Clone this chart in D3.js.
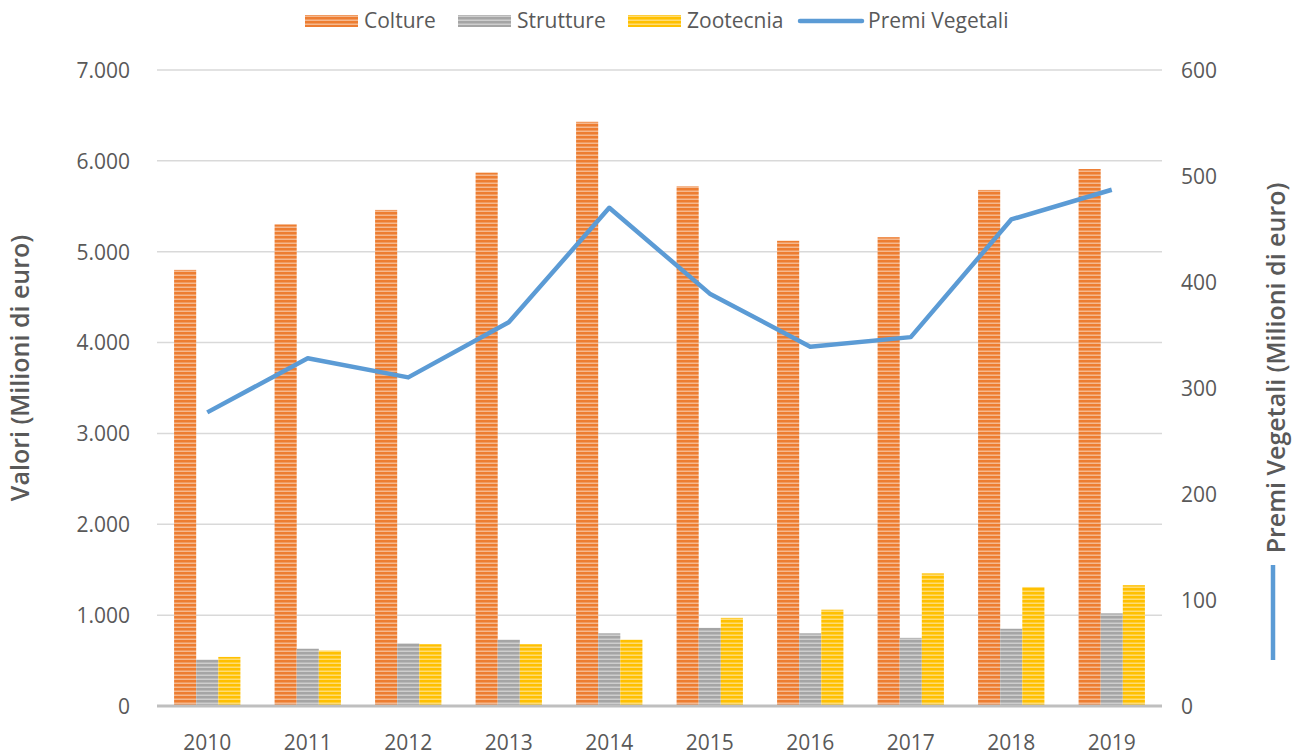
<!DOCTYPE html>
<html>
<head>
<meta charset="utf-8">
<script src="https://cdn.jsdelivr.net/npm/d3@7"></script>
<style>
body{margin:0;background:#fff;}
svg text{font-family:"Open Sans",sans-serif;fill:#595959;}
</style>
</head>
<body>
<svg id="chart" width="1293" height="756"></svg>
<script>
var anni=["2010","2011","2012","2013","2014","2015","2016","2017","2018","2019"];
var colture=[4800,5300,5460,5870,6430,5720,5120,5160,5680,5910];
var strutture=[510,630,690,730,800,860,800,750,850,1020];
var zootecnia=[540,610,680,680,730,970,1060,1460,1310,1330];
var premiVegetali=[277,328,310,362,470,389,339,348,459,487];
var serie=["Colture","Strutture","Zootecnia"];
var colori=["#ED7D31","#A5A5A5","#FFC000"];
var tickSx=[0,1000,2000,3000,4000,5000,6000,7000];
var tickDx=[0,100,200,300,400,500,600];

var svg=d3.select("#chart");
var pLeft=157,pRight=1162,pTop=70,pBottom=706;

// pattern a righe orizzontali
var defs=svg.append("defs");
colori.forEach(function(c,i){
	var p=defs.append("pattern").attr("id","righe"+i)
		.attr("patternUnits","userSpaceOnUse").attr("width",8).attr("height",4);
	p.append("rect").attr("width",8).attr("height",4).attr("fill",c);
	p.append("rect").attr("y",2.5).attr("width",8).attr("height",1.5).attr("fill","#fff").attr("opacity",0.45);
});

var it=d3.formatLocale({decimal:",",thousands:".",grouping:[3],currency:["€",""]});

var x0=d3.scaleBand().domain(anni).range([pLeft,pRight]).paddingInner(0.34).paddingOuter(0.17);
var x1=d3.scaleBand().domain(serie).range([0,x0.bandwidth()]);
var ySx=d3.scaleLinear().domain([0,7000]).range([pBottom,pTop]);
var yDx=d3.scaleLinear().domain([0,600]).range([pBottom,pTop]);

// griglia
svg.append("g").selectAll("line").data(tickSx.slice(1)).enter().append("line")
	.attr("x1",pLeft).attr("x2",pRight)
	.attr("y1",function(d){return ySx(d);}).attr("y2",function(d){return ySx(d);})
	.attr("stroke","#d9d9d9").attr("stroke-width",1.5);

// assi (solo etichette)
var axSx=svg.append("g").attr("transform","translate("+(pLeft-27)+",0)")
	.call(d3.axisLeft(ySx).tickValues(tickSx).tickFormat(it.format(",d")).tickSize(0));
var axDx=svg.append("g").attr("transform","translate("+(pRight+19)+",0)")
	.call(d3.axisRight(yDx).tickValues(tickDx).tickSize(0));
var axX=svg.append("g").attr("transform","translate(0,"+(pBottom+38)+")")
	.call(d3.axisBottom(x0).tickSize(0));
[axSx,axDx,axX].forEach(function(a){
	a.select(".domain").remove();
	a.selectAll("text").style("font-size","21px").attr("fill","#595959").attr("dy","0.35em");
});
axX.selectAll("text").attr("dy","0.3em").attr("y",0);
axSx.selectAll("text").attr("x",0);
axDx.selectAll("text").attr("x",0);

// barre
var valori=[colture,strutture,zootecnia];
var gruppi=svg.append("g").selectAll("g").data(anni).enter().append("g")
	.attr("transform",function(d){return "translate("+x0(d)+",0)";});
gruppi.selectAll("rect").data(function(d,i){
		return serie.map(function(s,k){return {s:s,k:k,v:valori[k][i]};});
	}).enter().append("rect")
	.attr("x",function(d){return x1(d.s);})
	.attr("width",x1.bandwidth())
	.attr("y",function(d){return ySx(d.v);})
	.attr("height",function(d){return pBottom-ySx(d.v);})
	.attr("fill",function(d){return "url(#righe"+d.k+")";});

// linea base
svg.append("line").attr("x1",pLeft).attr("x2",pRight).attr("y1",pBottom).attr("y2",pBottom)
	.attr("stroke","#bfbfbf").attr("stroke-width",3);

// linea premi vegetali
var linea=d3.line()
	.x(function(d,i){return x0(anni[i])+x0.bandwidth()/2;})
	.y(function(d){return yDx(d);});
svg.append("path").datum(premiVegetali).attr("d",linea)
	.attr("fill","none").attr("stroke","#5B9BD5").attr("stroke-width",4.5)
	.attr("stroke-linejoin","round");

// titoli assi
svg.append("text").attr("transform","translate(29,368) rotate(-90)")
	.attr("text-anchor","middle").style("font-size","25px").style("font-weight","600")
	.text("Valori (Milioni di euro)");
svg.append("text").attr("transform","translate(1285,368) rotate(-90)")
	.attr("text-anchor","middle").style("font-size","25px").style("font-weight","600")
	.text("Premi Vegetali (Milioni di euro)");
svg.append("line").attr("x1",1273).attr("x2",1273).attr("y1",565).attr("y2",660)
	.attr("stroke","#5B9BD5").attr("stroke-width",4.5);

// legenda
var leg=[
	{t:"Colture",k:0,x:305},
	{t:"Strutture",k:1,x:458},
	{t:"Zootecnia",k:2,x:628},
	{t:"Premi Vegetali",k:-1,x:800}
];
var lg=svg.append("g").selectAll("g").data(leg).enter().append("g")
	.attr("transform",function(d){return "translate("+d.x+",21)";});
lg.each(function(d){
	var g=d3.select(this);
	if(d.k>=0){
		g.append("rect").attr("x",0).attr("y",-6).attr("width",53).attr("height",12)
			.attr("fill","url(#righe"+d.k+")");
	}else{
		g.append("line").attr("x1",0).attr("x2",62).attr("y1",0).attr("y2",0)
			.attr("stroke","#5B9BD5").attr("stroke-width",4.5).attr("stroke-linecap","round");
	}
	g.append("text").attr("x",d.k>=0?59:68).attr("dy","0.35em")
		.style("font-size","21px").text(d.t);
});
</script>
</body>
</html>
